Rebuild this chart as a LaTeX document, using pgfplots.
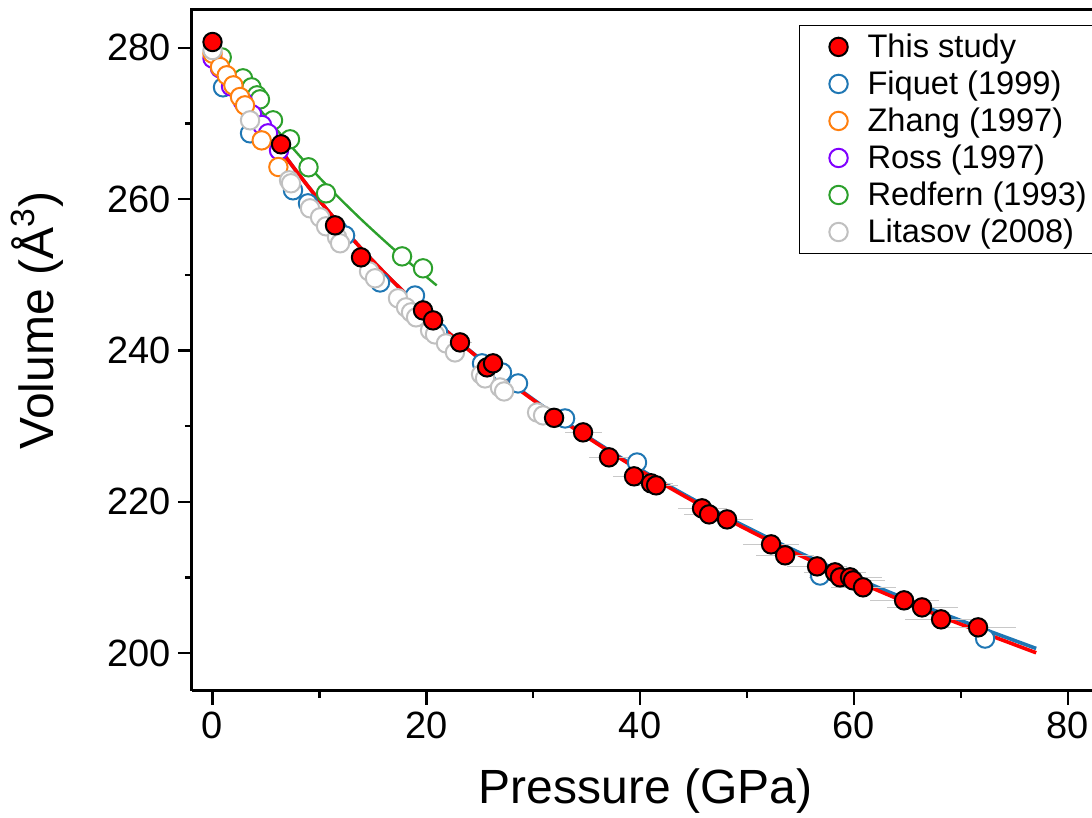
\documentclass[border=0pt]{standalone}
\usepackage{fontspec}
\setmainfont{Liberation Sans}
\usepackage{pgfplots}
\pgfplotsset{compat=1.18}
\usepackage{pgfplotstable}

\definecolor{tabblue}{HTML}{1F77B4}
\definecolor{taborange}{HTML}{FF7F0E}
\definecolor{tabgreen}{HTML}{2CA02C}
\definecolor{rosspurple}{HTML}{8000FF}
\definecolor{litgrey}{HTML}{C0C0C0}
\definecolor{errgrey}{HTML}{C8C8C8}

\pgfplotstableread{
P V E
0.00 280.77 0.00
6.41 267.25 0.32
11.46 256.54 0.57
13.89 252.31 0.69
19.69 245.30 0.98
20.63 243.98 1.03
23.15 241.07 1.16
25.68 237.77 1.28
26.24 238.30 1.31
31.95 231.10 1.60
34.66 229.18 1.73
37.09 225.88 1.85
39.43 223.37 1.97
41.02 222.45 2.05
41.49 222.18 2.07
45.79 219.14 2.29
46.45 218.34 2.32
48.13 217.68 2.41
52.25 214.38 2.61
53.56 212.93 2.68
56.55 211.47 2.83
58.23 210.68 2.91
58.70 210.02 2.94
59.64 210.02 2.98
59.92 209.62 3.00
60.85 208.70 3.04
64.69 206.98 3.23
66.37 206.05 3.32
68.15 204.47 3.41
71.61 203.41 3.58
}\thisstudy

\pgfplotstableread{
P V
0.00 280.80
2.38 275.00
4.65 270.00
7.15 265.00
9.90 260.00
12.93 255.00
16.27 250.00
19.95 245.00
24.02 240.00
28.51 235.00
33.49 230.00
38.99 225.00
45.10 220.00
51.89 215.00
59.44 210.00
67.85 205.00
77.05 200.05
}\redfit

\pgfplotstableread{
P V
0.00 280.80
2.38 275.00
4.65 270.00
7.15 265.00
9.90 260.00
12.93 255.00
16.27 250.00
19.95 245.00
24.02 240.05
28.51 235.08
33.49 230.10
38.99 225.15
45.10 220.22
51.89 215.30
59.44 210.38
67.85 205.47
77.05 200.62
}\bluefit

\pgfplotstableread{
P V
0.00 279.90
2.00 276.20
4.00 272.60
6.00 269.20
8.00 265.95
10.00 262.85
12.00 259.95
14.00 257.20
16.00 254.60
18.00 252.10
20.97 248.60
}\greenfit

\pgfplotstableread{
P V
0.98 274.78
3.51 268.70
7.53 261.17
8.93 259.45
11.74 255.88
12.40 255.20
15.67 248.99
18.94 247.27
21.10 242.40
25.21 238.30
27.08 237.10
28.58 235.65
32.98 231.02
39.71 225.20
56.83 210.26
72.27 201.93
}\fiquet

\pgfplotstableread{
P V
0.86 278.74
2.85 275.97
3.65 274.78
4.16 273.72
4.44 273.19
5.66 270.42
7.25 267.91
8.98 264.21
10.62 260.77
17.73 252.44
19.69 250.86
}\redfern

\pgfplotstableread{
P V
0.00 278.60
0.70 277.30
1.73 274.90
2.85 272.90
3.70 271.20
4.63 269.80
5.19 268.70
6.22 266.45
}\ross

\pgfplotstableread{
P V
0.00 279.23
0.70 277.46
1.33 276.37
1.95 275.04
2.57 273.50
3.04 272.40
4.60 267.77
6.16 264.25
}\zhang

\pgfplotstableread{
P V
0.00 279.70
3.51 270.42
7.16 262.49
7.34 262.10
9.12 258.79
10.06 257.60
10.62 256.41
11.65 254.96
11.93 254.17
14.64 250.46
15.20 249.54
17.35 246.90
18.10 245.70
18.57 245.04
19.04 244.38
20.35 242.66
20.81 242.13
21.84 240.94
22.68 239.75
25.12 236.84
25.49 236.31
26.89 235.12
27.27 234.59
30.36 231.81
30.92 231.42
}\litasov

\begin{document}
\begin{tikzpicture}
\begin{axis}[
  name=ax,
  at={(0,0)}, anchor=south west,
  scale only axis, width=450pt, height=340.5pt,
  xmin=-1.92, xmax=82.27, ymin=195, ymax=285,
  axis x line*=bottom, axis y line*=left,
  axis line style={line width=1.5pt, -},
  xtick={0,20,40,60,80}, ytick={200,220,240,260,280},
  minor xtick={10,30,50,70}, minor ytick={210,230,250,270},
  tick align=outside,
  major tick length=7pt, minor tick length=3.5pt,
  tick style={black, line width=1.2pt},
  tick label style={font=\fontsize{19}{22}\selectfont},
  /pgf/number format/assume math mode=true,
  xlabel={Pressure (GPa)},
  ylabel={Volume (Å\textsuperscript{3})},
  label style={font=\fontsize{24}{28}\selectfont},
  xlabel style={at={(axis description cs:0.504,-0.1659)}, anchor=base},
  ylabel style={at={(axis description cs:-0.1544,0.544)}, anchor=base},
  legend cell align=left,
  legend image code/.code={%
    \path[draw=none, fill=none] (-17.5pt,-4pt) rectangle (12.5pt,4pt);
    \draw[#1] plot coordinates {(0pt,0pt)};},
  legend style={at={(axis description cs:0.6744,0.978)}, anchor=north west,
    draw=black, line width=0.6pt, font=\fontsize{16.3}{19}\selectfont,
    row sep=1.2pt, inner xsep=2pt, inner ysep=2pt},
]
\addlegendimage{only marks, mark=*, mark size=4.6pt, mark options={draw=black, fill=red, line width=1pt}}
\addlegendentry{This study}
\addlegendimage{only marks, mark=o, mark size=4.6pt, mark options={draw=tabblue, line width=1pt}}
\addlegendentry{Fiquet (1999)}
\addlegendimage{only marks, mark=o, mark size=4.6pt, mark options={draw=taborange, line width=1pt}}
\addlegendentry{Zhang (1997)}
\addlegendimage{only marks, mark=o, mark size=4.6pt, mark options={draw=rosspurple, line width=1pt}}
\addlegendentry{Ross (1997)}
\addlegendimage{only marks, mark=o, mark size=4.6pt, mark options={draw=tabgreen, line width=1pt}}
\addlegendentry{Redfern (1993)}
\addlegendimage{only marks, mark=o, mark size=4.6pt, mark options={draw=litgrey, line width=1pt}}
\addlegendentry{Litasov (2008)}

\addplot[forget plot, tabgreen, line width=1.2pt, smooth] table[x=P, y=V] {\greenfit};
\addplot[forget plot, only marks, mark=*, mark size=4.6pt, mark options={draw=tabblue, fill=white, line width=1pt}] table[x=P, y=V] {\fiquet};
\addplot[forget plot, only marks, mark=*, mark size=4.6pt, mark options={draw=tabgreen, fill=white, line width=1pt}] table[x=P, y=V] {\redfern};
\addplot[forget plot, only marks, mark=*, mark size=4.6pt, mark options={draw=rosspurple, fill=white, line width=1pt}] table[x=P, y=V] {\ross};
\addplot[forget plot, only marks, mark=*, mark size=4.6pt, mark options={draw=taborange, fill=white, line width=1pt}] table[x=P, y=V] {\zhang};
\addplot[forget plot, only marks, mark=*, mark size=4.6pt, mark options={draw=litgrey, fill=white, line width=1pt}] table[x=P, y=V] {\litasov};
\addplot[forget plot, tabblue, line width=1.8pt, smooth] table[x=P, y=V] {\bluefit};
\addplot[forget plot, red, line width=1.8pt, smooth] table[x=P, y=V] {\redfit};
\addplot[forget plot, only marks, mark=*, mark size=4.6pt, mark options={draw=black, fill=red, line width=1pt},
  error bars/.cd, x dir=both, x explicit, error mark=none, error bar style={errgrey, line width=0.5pt}]
  table[x=P, y=V, x error=E] {\thisstudy};
\end{axis}
\draw[line width=1.5pt] ([xshift=-0.75pt]ax.north west) -- (ax.north east);
\pgfresetboundingbox
\path ([xshift=-96pt,yshift=-63.5pt]ax.south west) rectangle ([yshift=5pt]ax.north east);
\end{tikzpicture}
\end{document}
